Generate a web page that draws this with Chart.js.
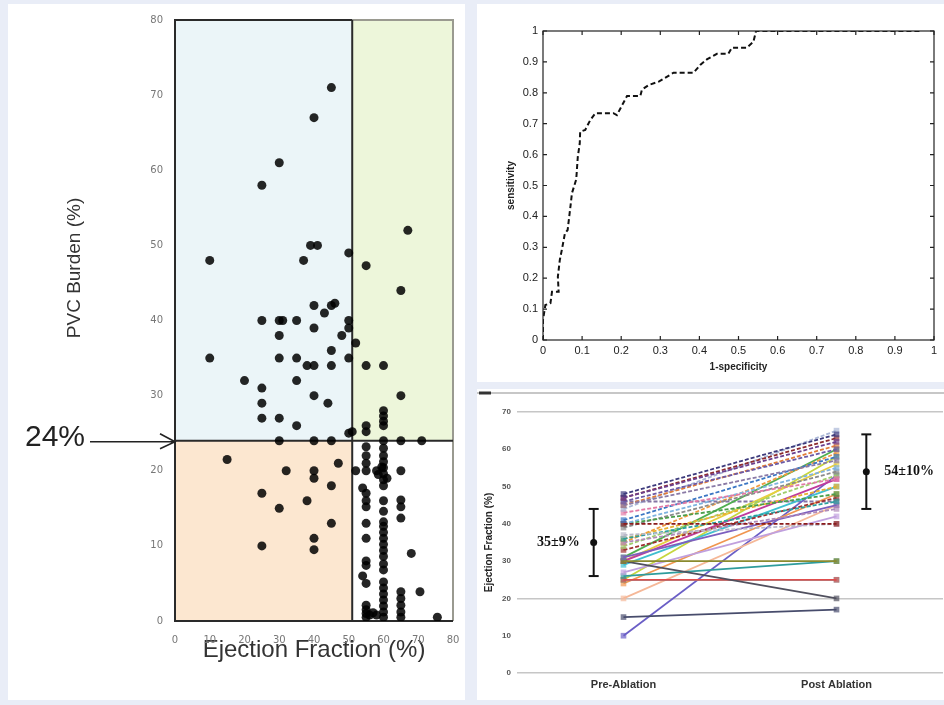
<!DOCTYPE html>
<html>
<head>
<meta charset="utf-8">
<title>PVC burden, ROC and ejection fraction</title>
<script src="https://cdn.jsdelivr.net/npm/chart.js@4/dist/chart.umd.min.js"></script>
<style>
  body { margin: 0; background: #e9edf7; width: 944px; height: 705px; overflow: hidden; position: relative; }
  .panel { position: absolute; background: #fff; }
  .panel canvas { display: block; }
  #p1 { left: 8px; top: 4px; width: 457px; height: 696px; }
  #p2 { left: 477px; top: 4px; width: 467px; height: 378px; }
  #p3 { left: 477px; top: 389px; width: 467px; height: 311px; }
</style>
</head>
<body>
<div class="panel" id="p1"><canvas id="burdenChart" width="457" height="696"></canvas></div>
<div class="panel" id="p2"><canvas id="rocChart" width="467" height="378"></canvas></div>
<div class="panel" id="p3"><canvas id="efChart" width="467" height="311"></canvas></div>
<script>
// --- PVC burden vs ejection fraction, one point per patient ---
const efValues = [
  45, 40, 30, 25, 10, 39, 41, 37, 50,
  40, 43, 45, 46, 25, 30, 31, 35, 40, 50, 50,
  30, 48, 10, 30, 35, 45, 50, 38, 40, 45, 20, 35, 25, 40, 44, 25,
  25, 30, 35, 50, 30, 40, 45,
  55, 67, 65, 52, 55, 60, 65, 60, 60, 60, 60, 55, 55, 51, 60, 65, 71,
  15, 32, 40, 40, 47, 45, 25, 38, 30, 45, 25, 40, 40,
  55, 55, 55, 55, 54, 55, 55, 55, 55, 55, 55, 55, 54, 55, 55, 55, 55, 55, 56, 57, 58,
  52, 58, 58.5, 61, 59.5,
  60, 60, 60, 60, 60, 60, 60, 60, 60, 60, 60, 60, 60, 60, 60, 60, 60, 60, 60, 60, 60, 60, 60, 60, 60,
  65, 65, 65, 65, 65, 65, 65, 65, 65,
  68, 70.5, 75.5
];
const burdenValues = [
  71, 67, 61, 58, 48, 50, 50, 48, 49,
  42, 41, 42, 42.3, 40, 40, 40, 40, 39, 40, 39,
  38, 38, 35, 35, 35, 36, 35, 34, 34, 34, 32, 32, 31, 30, 29, 29,
  27, 27, 26, 25, 24, 24, 24,
  47.3, 52, 44, 37, 34, 34, 30, 28, 27.3, 26.6, 26, 26, 25.2, 25.2, 24, 24, 24,
  21.5, 20, 20, 19, 21, 18, 17, 16, 15, 13, 10, 11, 9.5,
  23.2, 22, 21, 20, 17.7, 17, 16, 15.2, 13, 11, 8, 7.4, 6, 5, 2.1, 1.5, 1, 0.5, 0.8, 1.1, 0.8,
  20, 20, 19.5, 19, 20.5,
  23, 22, 21.2, 20.4, 19.6, 18.8, 18, 16, 14.6, 13.2, 12.6, 11.8, 11, 10.2, 9.4, 8.6, 7.6, 6.8, 5.2, 4.4, 3.6, 2.8, 2, 1.2, 0.5,
  20, 16.1, 15.2, 13.7, 3.9, 3, 2.1, 1.2, 0.5,
  9, 3.9, 0.5
];
const efCutoff = 51;
const burdenCutoff = 24;

// --- ROC curve ---
const fpr = [0, 0, 0.006, 0.019, 0.023, 0.04, 0.038, 0.043, 0.049, 0.056, 0.063, 0.07, 0.074, 0.085,
  0.089, 0.094, 0.095, 0.108, 0.121, 0.134, 0.18, 0.189, 0.215, 0.249, 0.253, 0.27, 0.296, 0.334,
  0.385, 0.402, 0.419, 0.445, 0.474, 0.483, 0.521, 0.538, 0.545, 0.964];
const tpr = [0, 0.065, 0.113, 0.119, 0.156, 0.156, 0.205, 0.259, 0.297, 0.345, 0.356, 0.43, 0.475, 0.52,
  0.593, 0.636, 0.674, 0.68, 0.712, 0.734, 0.734, 0.728, 0.79, 0.79, 0.81, 0.825, 0.836, 0.865,
  0.865, 0.89, 0.908, 0.926, 0.926, 0.946, 0.946, 0.965, 1, 1];

// --- ejection fraction before / after ablation ---
const phases = ['Pre-Ablation', 'Post Ablation'];
const preEF = [48, 47, 47, 46, 45, 45, 44, 43, 41, 40, 40, 40, 39, 37, 36, 36, 35, 35, 34, 33, 31, 31,
  30, 30, 30, 30, 29, 27, 26, 25, 25, 25, 24, 20, 15, 10, 46];
const postEF = [64, 62, 63, 60, 57, 61, 65, 52, 58, 40, 55, 48, 54, 40, 46, 50, 44, 59, 53, 47, 45, 60,
  30, 20, 52, 56, 50, 42, 30, 25, 25, 58, 48, 45, 17, 53, 46];
const efMean = [35, 54];
const efSD = [9, 10];

const lineColors = ['#3d3a7c', '#6c3f8e', '#8e2b2e', '#6b5aa6', '#8a7aa6', '#e07b39', '#a9b6d6', '#e27aa6',
  '#3b76c4', '#8b1a1a', '#7eb3e0', '#4a9e4a', '#8a8a8a', '#b8b8c8', '#2a9f9f', '#e8b030', '#b08ab8',
  '#f09a40', '#9fcd6d', '#a03030', '#7d5fbf', '#4fae4f', '#8a8a2e', '#50505e', '#c03c9c', '#e6cf40',
  '#3fbfcf', '#c0a0de', '#2e9c9c', '#e04c4c', '#3ec4c4', '#c6d63e', '#f09650', '#f5b898', '#474c6c',
  '#6a5ec6', '#8474a4'];

Chart.defaults.font.family = 'Liberation Sans';
Chart.defaults.animation = false;
Chart.defaults.layout.autoPadding = false;
Chart.defaults.plugins.legend.display = false;
Chart.defaults.plugins.tooltip.enabled = false;

// keep the plot area where the fixed axis sizes put it
const noEdgePadding = s => {
  s.paddingLeft = 0; s.paddingRight = 0; s.paddingTop = 0; s.paddingBottom = 0;
};

// coloured quadrants split at the two cut-offs, plus the frame lines
const quadrants = {
  id: 'quadrants',
  beforeDatasetsDraw(chart) {
    const {ctx, chartArea: a, scales: {x, y}} = chart;
    const cx = x.getPixelForValue(efCutoff);
    const cy = y.getPixelForValue(burdenCutoff);
    ctx.save();
    ctx.fillStyle = '#ebf5f8';
    ctx.fillRect(a.left, a.top, cx - a.left, cy - a.top);
    ctx.fillStyle = '#edf6da';
    ctx.fillRect(cx, a.top, a.right - cx, cy - a.top);
    ctx.fillStyle = '#fce7d0';
    ctx.fillRect(a.left, cy, cx - a.left, a.bottom - cy);
    ctx.lineWidth = 2;
    ctx.strokeStyle = '#9a9a90';
    ctx.beginPath();
    ctx.moveTo(cx, a.top); ctx.lineTo(a.right, a.top); ctx.lineTo(a.right, a.bottom);
    ctx.stroke();
    ctx.strokeStyle = '#2a2a2a';
    ctx.beginPath();
    ctx.moveTo(cx, a.top); ctx.lineTo(a.left, a.top); ctx.lineTo(a.left, a.bottom); ctx.lineTo(a.right, a.bottom);
    ctx.moveTo(cx, a.top); ctx.lineTo(cx, a.bottom);
    ctx.moveTo(a.left, cy); ctx.lineTo(a.right, cy);
    ctx.stroke();
    ctx.restore();
  },
  afterDraw(chart) {
    const {ctx, chartArea: a, scales: {y}} = chart;
    const cy = y.getPixelForValue(burdenCutoff);
    ctx.save();
    ctx.fillStyle = '#222';
    ctx.font = '30px "Liberation Sans"';
    ctx.textBaseline = 'middle';
    ctx.fillText(burdenCutoff + '%', 17, cy - 3);
    ctx.strokeStyle = '#222';
    ctx.lineWidth = 1.6;
    ctx.beginPath();
    ctx.moveTo(82, cy + 1); ctx.lineTo(a.left, cy + 1);
    ctx.moveTo(a.left - 15, cy - 7); ctx.lineTo(a.left, cy + 1); ctx.lineTo(a.left - 15, cy + 8);
    ctx.stroke();
    // y axis title sits above the middle of the axis
    ctx.translate(67, 264);
    ctx.rotate(-Math.PI / 2);
    ctx.fillStyle = '#333';
    ctx.font = '19px "Liberation Sans"';
    ctx.textAlign = 'center';
    ctx.fillText('PVC Burden (%)', 0, 0);
    ctx.restore();
  }
};

new Chart(document.getElementById('burdenChart'), {
  type: 'scatter',
  data: {
    datasets: [{
      data: efValues.map((x, i) => ({x, y: burdenValues[i]})),
      backgroundColor: 'rgba(0,0,0,0.85)',
      borderWidth: 0,
      pointRadius: 4.5
    }]
  },
  options: {
    responsive: false,
    layout: {padding: {top: 16, right: 12}},
    scales: {
      x: {
        min: 0, max: 80,
        ticks: {stepSize: 10, padding: 13, color: '#777', font: {family: 'DejaVu Sans', size: 10}},
        grid: {display: false, drawTicks: false},
        border: {display: false},
        title: {display: true, text: 'Ejection Fraction (%)', color: '#333', font: {size: 24}, padding: {top: 0, bottom: 35}},
        afterFit: s => { s.height = 79; noEdgePadding(s); }
      },
      y: {
        min: 0, max: 80,
        ticks: {stepSize: 10, padding: 12, color: '#777', font: {family: 'DejaVu Sans', size: 10}},
        grid: {display: false, drawTicks: false},
        border: {display: false},
        afterFit: s => { s.width = 167; noEdgePadding(s); }
      }
    }
  },
  plugins: [quadrants]
});

// box with inward tick marks on all four sides
const boxTicks = {
  id: 'boxTicks',
  afterDatasetsDraw(chart) {
    const {ctx, chartArea: a, scales: {x, y}} = chart;
    ctx.save();
    ctx.strokeStyle = '#222';
    ctx.lineWidth = 1.2;
    ctx.strokeRect(a.left, a.top, a.right - a.left, a.bottom - a.top);
    ctx.beginPath();
    for (let v = 0; v <= 10; v++) {
      const px = x.getPixelForValue(v / 10);
      const py = y.getPixelForValue(v / 10);
      ctx.moveTo(px, a.bottom); ctx.lineTo(px, a.bottom - 4);
      ctx.moveTo(px, a.top); ctx.lineTo(px, a.top + 4);
      ctx.moveTo(a.left, py); ctx.lineTo(a.left + 4, py);
      ctx.moveTo(a.right, py); ctx.lineTo(a.right - 4, py);
    }
    ctx.stroke();
    ctx.restore();
  }
};

const rocAxis = {
  min: 0, max: 1,
  grid: {display: false, drawTicks: false},
  border: {display: false}
};

new Chart(document.getElementById('rocChart'), {
  type: 'scatter',
  data: {
    datasets: [{
      data: fpr.map((x, i) => ({x, y: tpr[i]})),
      showLine: true,
      borderColor: '#111',
      borderWidth: 2,
      borderDash: [5, 3],
      pointRadius: 0
    }]
  },
  options: {
    responsive: false,
    layout: {padding: {top: 27, right: 10}},
    scales: {
      x: {
        ...rocAxis,
        ticks: {stepSize: 0.1, padding: 4, color: '#222', font: {size: 11}, callback: v => String(+v.toFixed(1))},
        title: {display: true, text: '1-specificity', color: '#222', font: {size: 10, weight: 'bold'}, padding: {top: 0, bottom: 9}},
        afterFit: s => { s.height = 42; noEdgePadding(s); }
      },
      y: {
        ...rocAxis,
        ticks: {stepSize: 0.1, padding: 5, color: '#222', font: {size: 11}, callback: v => String(+v.toFixed(1))},
        title: {display: true, text: 'sensitivity', color: '#222', font: {size: 10, weight: 'bold'}, padding: {top: 28, bottom: 0}},
        afterFit: s => { s.width = 66; noEdgePadding(s); }
      }
    }
  },
  plugins: [boxTicks]
});

// mean ± SD labels next to the error bars, and the rule above the chart
const efDecor = {
  id: 'efDecor',
  afterDraw(chart) {
    const {ctx, width, scales: {x, y}} = chart;
    ctx.save();
    ctx.strokeStyle = '#b5b5b5';
    ctx.lineWidth = 1.5;
    ctx.beginPath(); ctx.moveTo(0, 4); ctx.lineTo(width, 4); ctx.stroke();
    ctx.strokeStyle = '#333';
    ctx.lineWidth = 3;
    ctx.beginPath(); ctx.moveTo(2, 4); ctx.lineTo(14, 4); ctx.stroke();
    ctx.fillStyle = '#111';
    ctx.font = 'bold 14px "Liberation Serif"';
    ctx.textBaseline = 'middle';
    ctx.textAlign = 'right';
    ctx.fillText(`${efMean[0]}±${efSD[0]}%`, x.getPixelForValue(-0.14) - 14, y.getPixelForValue(efMean[0]));
    ctx.textAlign = 'left';
    ctx.fillText(`${efMean[1]}±${efSD[1]}%`, x.getPixelForValue(1.14) + 18, y.getPixelForValue(efMean[1]));
    ctx.restore();
  }
};

const patientSets = preEF.map((pre, i) => ({
  data: [{x: 0, y: pre}, {x: 1, y: postEF[i]}],
  showLine: true,
  borderColor: lineColors[i],
  borderWidth: 1.8,
  borderDash: pre > 31 ? [4, 2] : [],
  pointStyle: 'rect',
  pointRadius: 4,
  pointBackgroundColor: lineColors[i] + 'b0',
  pointBorderWidth: 0
}));

const barX = [-0.14, 1.14];
const errorSets = efMean.map((m, i) => ({
  data: [{x: barX[i], y: m - efSD[i]}, {x: barX[i], y: m + efSD[i]}],
  showLine: true,
  borderColor: '#111',
  borderWidth: 2,
  pointStyle: 'line',
  pointRadius: 5,
  pointBorderColor: '#111',
  pointBorderWidth: 2
}));
const meanSet = {
  data: efMean.map((m, i) => ({x: barX[i], y: m})),
  pointStyle: 'circle',
  pointRadius: 3.5,
  backgroundColor: '#111',
  borderWidth: 0
};

new Chart(document.getElementById('efChart'), {
  type: 'scatter',
  data: {datasets: [...patientSets, ...errorSets, meanSet]},
  options: {
    responsive: false,
    layout: {padding: {top: 23, right: 1}},
    scales: {
      x: {
        min: -0.5, max: 1.5,
        afterBuildTicks: s => { s.ticks = [{value: 0}, {value: 1}]; },
        ticks: {padding: 5, color: '#333', font: {size: 11, weight: 'bold'}, callback: v => phases[v] ?? ''},
        grid: {display: false, drawTicks: false},
        border: {display: false},
        afterFit: s => { s.height = 27; noEdgePadding(s); }
      },
      y: {
        min: 0, max: 70,
        ticks: {stepSize: 10, padding: 6, color: '#555', font: {size: 8, weight: 'bold'}},
        grid: {
          drawTicks: false,
          lineWidth: 1.5,
          color: c => [0, 20, 70].includes(c.tick.value) ? '#c6c6c6' : 'rgba(0,0,0,0)'
        },
        border: {display: false},
        title: {display: true, text: 'Ejection Fraction (%)', color: '#222', font: {size: 10, weight: 'bold'}, padding: {top: 6, bottom: 0}},
        afterFit: s => { s.width = 40; noEdgePadding(s); }
      }
    }
  },
  plugins: [efDecor]
});
</script>
</body>
</html>
